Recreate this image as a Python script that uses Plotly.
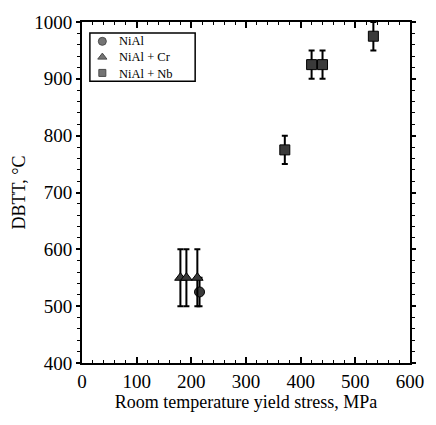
import plotly.graph_objects as go

# Data
nial_x = [215]
nial_y = [525]
nial_err = [25]

cr_x = [180, 191, 211]
cr_y = [550, 550, 550]
cr_err = [50, 50, 50]

nb_x = [371, 420, 440, 533]
nb_y = [775, 925, 925, 975]
nb_err = [25, 25, 25, 25]

series_names = ["NiAl", "NiAl + Cr", "NiAl + Nb"]
series_symbols = ["circle", "triangle-up", "square"]

x_ticks = [0, 100, 200, 300, 400, 500, 600]
y_ticks = [400, 500, 600, 700, 800, 900, 1000]

FONT = "Liberation Serif"
MC = "#3a3a3a"

fig = go.Figure()

def add(x, y, e, name, symbol, size):
    fig.add_trace(go.Scatter(
        x=x, y=y, mode="markers", name=name, showlegend=False,
        marker=dict(symbol=symbol, size=size, color=MC,
                    line=dict(color="black", width=1)),
        error_y=dict(type="data", array=e, visible=True,
                     color="black", thickness=2, width=3),
    ))

add(nial_x, nial_y, nial_err, series_names[0], series_symbols[0], 10)
add(cr_x, cr_y, cr_err, series_names[1], series_symbols[1], 10)
add(nb_x, nb_y, nb_err, series_names[2], series_symbols[2], 10)

# Custom compact legend (paper-fraction positions on an overlay axis)
leg_font = 12.5
leg_step = leg_font * 1.3 / 351.0
leg_mid = 0.897
leg_y = [leg_mid + leg_step, leg_mid, leg_mid - leg_step]
fig.add_trace(go.Scatter(
    x=[0.062] * 3, y=leg_y, mode="markers", showlegend=False,
    xaxis="x2", yaxis="y2", hoverinfo="skip",
    marker=dict(symbol=series_symbols, size=[8, 8, 7], color=MC,
                line=dict(color="black", width=1)),
))
fig.add_annotation(x=0.106, y=leg_mid, xref="paper", yref="paper",
                   text="<br>".join(series_names), showarrow=False,
                   xanchor="left", yanchor="middle", align="left",
                   font=dict(size=leg_font, family=FONT, color="black"))
fig.add_shape(type="rect", xref="paper", yref="paper",
              x0=0.024, x1=0.345, y0=0.826, y1=0.968,
              line=dict(color="black", width=1.5), fillcolor="rgba(0,0,0,0)")

fig.update_layout(
    width=436, height=425,
    margin=dict(l=82, r=12, t=12, b=62),
    paper_bgcolor="white", plot_bgcolor="white",
    font=dict(family=FONT, color="black", size=18),
    showlegend=False,
    xaxis2=dict(range=[0, 1], overlaying="x", visible=False, fixedrange=True),
    yaxis2=dict(range=[0, 1], overlaying="y", visible=False, fixedrange=True),
)

fig.layout.xaxis.update(
    range=[0, 600], tickvals=x_ticks, ticktext=[str(v) for v in x_ticks],
    showgrid=False, zeroline=False,
    showline=True, linecolor="black", linewidth=2, mirror="ticks",
    ticks="inside", ticklen=6, tickwidth=1.5, tickcolor="black",
    minor=dict(dtick=20, ticks="inside", ticklen=3, tickwidth=1, tickcolor="black"),
    tickfont=dict(size=19, family=FONT),
    title=dict(text="Room temperature yield stress, MPa", font=dict(size=18, family=FONT), standoff=2),
)
fig.layout.yaxis.update(
    range=[400, 1000], tickvals=y_ticks, ticktext=[str(v) for v in y_ticks],
    showgrid=False, zeroline=False,
    showline=True, linecolor="black", linewidth=2, mirror="ticks",
    ticks="outside", ticklen=4, tickwidth=1.5, tickcolor="black",
    minor=dict(dtick=20, ticks="outside", ticklen=3, tickwidth=1, tickcolor="black"),
    tickfont=dict(size=19, family=FONT),
    ticklabelstandoff=0,
    title=dict(text="DBTT, °C", font=dict(size=18, family=FONT), standoff=4),
)

fig.write_html("out.html")
